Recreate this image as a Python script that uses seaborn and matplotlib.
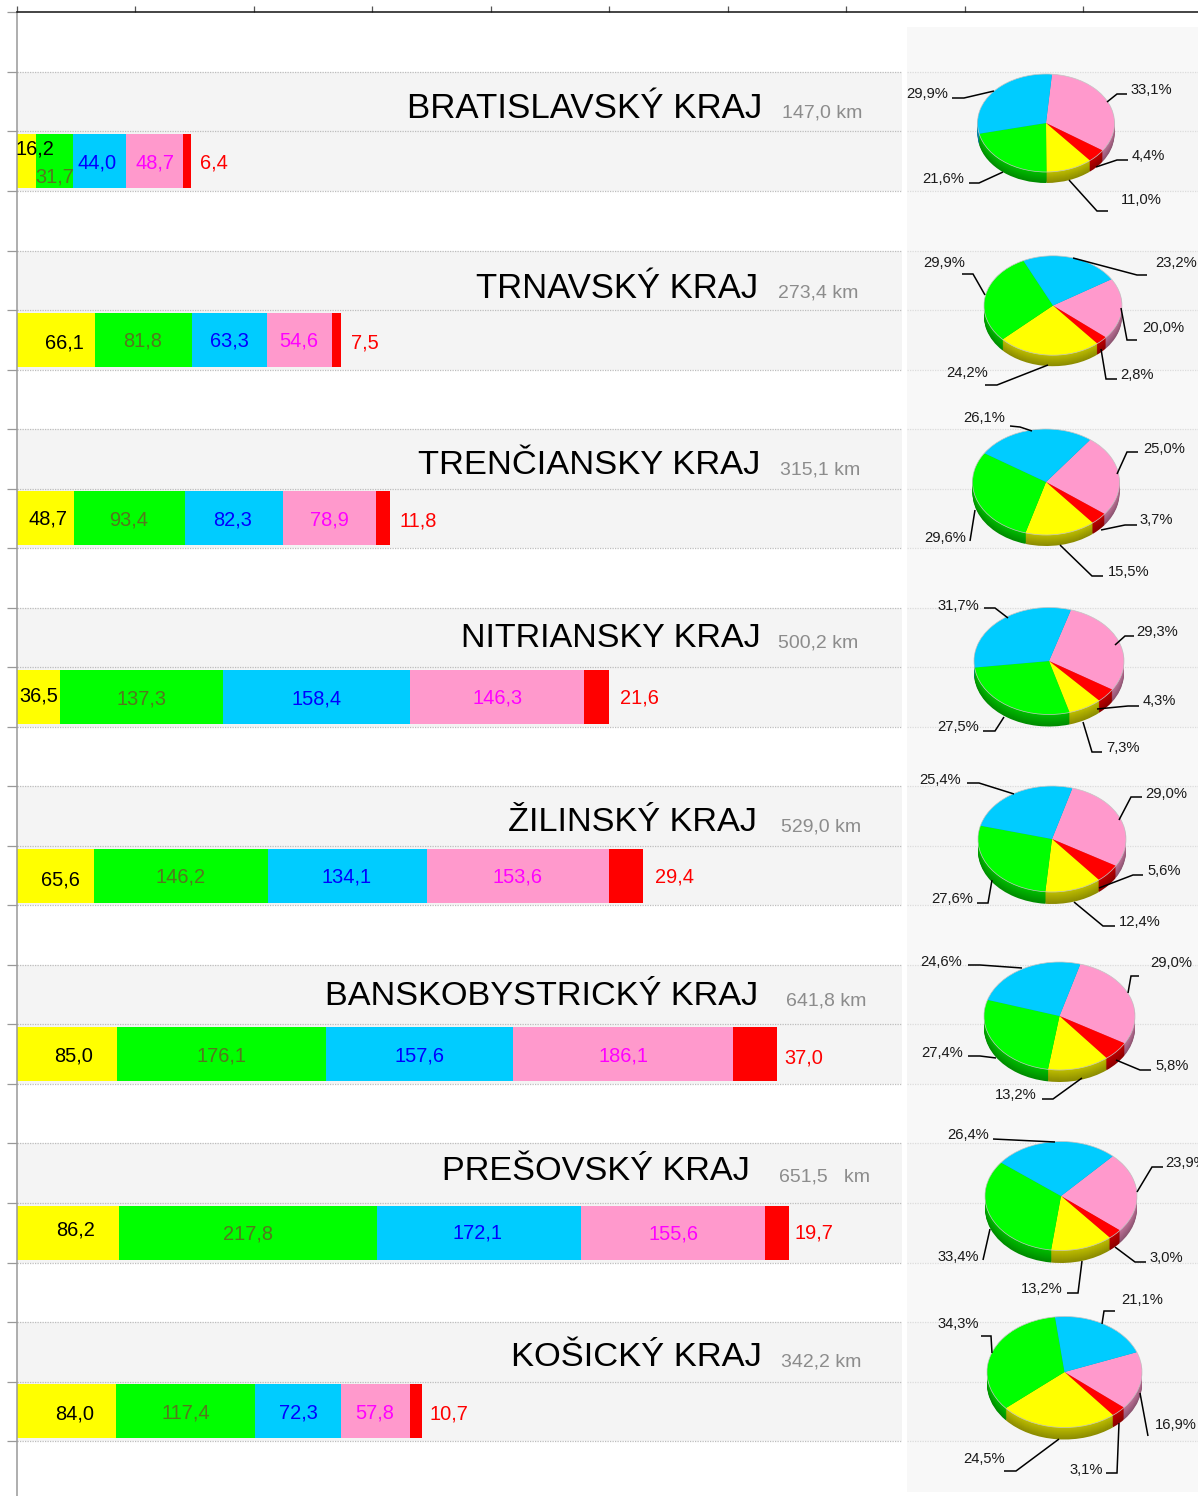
import numpy as np
import pandas as pd
import matplotlib
matplotlib.use("Agg")
import matplotlib.pyplot as plt
from matplotlib.patches import Ellipse
import seaborn as sns

# ---------- data ----------
regions = ["BRATISLAVSKÝ KRAJ", "TRNAVSKÝ KRAJ", "TRENČIANSKY KRAJ", "NITRIANSKY KRAJ",
           "ŽILINSKÝ KRAJ", "BANSKOBYSTRICKÝ KRAJ", "PREŠOVSKÝ KRAJ", "KOŠICKÝ KRAJ"]
lengths = ["147,0 km", "273,4 km", "315,1 km", "500,2 km", "529,0 km", "641,8 km", "651,5   km", "342,2 km"]
yellow_km = [16.2, 66.1, 48.7, 36.5, 65.6, 85.0, 86.2, 84.0]
green_km = [31.7, 81.8, 93.4, 137.3, 146.2, 176.1, 217.8, 117.4]
blue_km = [44.0, 63.3, 82.3, 158.4, 134.1, 157.6, 172.1, 72.3]
pink_km = [48.7, 54.6, 78.9, 146.3, 153.6, 186.1, 155.6, 57.8]
red_km = [6.4, 7.5, 11.8, 21.6, 29.4, 37.0, 19.7, 10.7]
pink_pct = [33.1, 20.0, 25.0, 29.3, 29.0, 29.0, 23.9, 16.9]
red_pct = [4.4, 2.8, 3.7, 4.3, 5.6, 5.8, 3.0, 3.1]
yellow_pct = [11.0, 24.2, 15.5, 7.3, 12.4, 13.2, 13.2, 24.5]
green_pct = [21.6, 29.9, 29.6, 27.5, 27.6, 27.4, 33.4, 34.3]
blue_pct = [29.9, 23.2, 26.1, 31.7, 25.4, 24.6, 26.4, 21.1]

# ---------- layout / style ----------
W, H = 1198, 1496
AX_L, AX_T = 16.7, 12.4
PX_PER_KM, PX_PER_SLOT = 1.185, 59.53
BAR_COL = ["#ffff00", "#00ff00", "#00ccff", "#ff99cc", "#ff0000"]
TXT_COL = ["#000000", "#55771f", "#0000ff", "#ff00ff", "#ff0000"]
title_size = [25.1, 24.9, 24.8, 24.6, 24.7, 24.7, 24.7, 24.8]
title_pos = [(762, 108), (758, 288), (760, 465), (761, 638), (757, 822), (758, 996), (750, 1172), (762, 1357)]
km_pos = [(782, 113), (778, 293), (780, 470), (778, 643), (781, 827), (786, 1001), (779, 1177), (781, 1362)]
val_pos = [
    [(35, 149), (55, 177), (97, 163), (155, 163), (214, 163)],
    [(64, 343), (143, 341), (229, 341), (299, 341), (365, 343)],
    [(48, 519), (129, 520), (233, 520), (329, 520), (418, 521)],
    [(39, 696), (141, 699), (317, 699), (498, 698), (639, 698)],
    [(60, 880), (181, 877), (347, 877), (518, 877), (674, 877)],
    [(74, 1056), (221, 1056), (420, 1056), (623, 1056), (804, 1058)],
    [(76, 1230), (248, 1234), (478, 1233), (673, 1234), (814, 1233)],
    [(75, 1414), (186, 1413), (298, 1413), (375, 1413), (449, 1414)],
]
# cx, cy, rx, ry, depth, start angle
pie_geo = [
    (1046, 123, 68.5, 49, 11, 85), (1053, 305.5, 69, 49.7, 11, 32), (1046, 482, 73.5, 53, 11, 53),
    (1049, 661, 75, 53.5, 12, 73), (1052, 839, 74, 53, 12, 74), (1059.5, 1016, 75.5, 54, 12, 74),
    (1061, 1196, 76, 54.5, 12.5, 47), (1064.5, 1372, 77.5, 55.5, 12, 21),
]
# per pie, in order pink, red, yellow, green, blue: label centre and leader polyline
pie_lab = [
    [((1151, 90), [(1127, 94), (1117, 94), (1107, 102)]), ((1148, 156), [(1128, 160), (1117, 160), (1096, 167)]),
     ((1141, 200), [(1108, 211), (1097, 211), (1069, 180)]), ((943, 179), [(969, 183), (979, 183), (1003, 172)]),
     ((927, 94), [(952, 98), (964, 98), (994, 91)])],
    [((1163, 328), [(1137, 340), (1127, 340), (1121, 308)]), ((1137, 375), [(1117, 379), (1106, 379), (1101, 349)]),
     ((967, 373), [(985, 385), (997, 385), (1048, 365)]), ((944, 263), [(962, 274), (973, 274), (985, 295)]),
     ((1176, 263), [(1147, 275), (1137, 275), (1073, 258)])],
    [((1164, 449), [(1138, 452), (1127, 452), (1117, 474)]), ((1156, 520), [(1137, 525), (1125, 525), (1101, 530)]),
     ((1129, 572), [(1103, 576), (1092, 576), (1060, 545)]), ((945, 538), [(970, 541), (975, 510)]),
     ((984, 418), [(1010, 426), (1020, 427), (1032, 431)])],
    [((1157, 632), [(1134, 636), (1125, 636), (1115, 645)]), ((1159, 701), [(1139, 706), (1128, 706), (1097, 709)]),
     ((1123, 748), [(1102, 752), (1092, 752), (1083, 722)]), ((958, 727), [(983, 731), (995, 731), (1004, 717)]),
     ((958, 606), [(984, 608), (995, 608), (1008, 618)])],
    [((1166, 794), [(1142, 797), (1131, 797), (1119, 820)]), ((1164, 871), [(1143, 875), (1133, 875), (1099, 888)]),
     ((1140, 922), [(1115, 926), (1103, 926), (1074, 902)]), ((952, 899), [(977, 903), (988, 903), (992, 880)]),
     ((940, 780), [(967, 783), (979, 783), (1014, 794)])],
    [((1171, 963), [(1139, 976), (1131, 976), (1128, 993)]), ((1172, 1066), [(1151, 1070), (1140, 1070), (1116, 1060)]),
     ((1016, 1095), [(1042, 1099), (1053, 1099), (1082, 1078)]), ((942, 1053), [(968, 1056), (980, 1056), (996, 1058)]),
     ((941, 962), [(968, 965), (980, 965), (1022, 968)])],
    [((1186, 1163), [(1163, 1167), (1152, 1167), (1137, 1192)]), ((1166, 1258), [(1146, 1262), (1135, 1262), (1115, 1247)]),
     ((1042, 1289), [(1067, 1293), (1078, 1293), (1082, 1261)]), ((958, 1257), [(983, 1260), (990, 1229)]),
     ((968, 1135), [(993, 1139), (1055, 1142)])],
    [((1176, 1425), [(1148, 1436), (1140, 1393)]), ((1086, 1470), [(1106, 1473), (1117, 1473), (1119, 1423)]),
     ((984, 1459), [(1004, 1471), (1016, 1471), (1059, 1439)]), ((958, 1324), [(981, 1336), (991, 1336), (992, 1353)]),
     ((1142, 1300), [(1115, 1311), (1104, 1311), (1102, 1324)])],
]

sns.set_theme(style="white")
plt.rcParams["font.family"] = ["Liberation Sans", "DejaVu Sans"]


def comma(v):
    return f"{v:.1f}".replace(".", ",")


fig = plt.figure(figsize=(W / 100, H / 100), dpi=100, facecolor="white")
ax = fig.add_axes([AX_L / W, 0, 1 - AX_L / W, 1 - AX_T / H], zorder=0)
ax.set_facecolor("white")
x_max = (W - AX_L) / PX_PER_KM
y_max = (H - AX_T) / PX_PER_SLOT
x_split_a, x_split_b = (902 - AX_L) / PX_PER_KM, (907 - AX_L) / PX_PER_KM

# background panels
ax.fill_between([x_split_b, x_max], (27 - AX_T) / PX_PER_SLOT, (1492 - AX_T) / PX_PER_SLOT,
                color="#f8f8f8", lw=0, zorder=0)
for i in range(len(regions)):
    y0 = 1 + 3 * i
    ax.fill_between([0, x_split_a], y0, y0 + 2, color="#f4f4f4", lw=0, zorder=0.1)
    ax.fill_between([x_split_b, x_max], y0, y0 + 2, color="#f5f5f5", lw=0, zorder=0.1)
    for y in (y0, y0 + 1, y0 + 2):
        ax.plot([0, x_split_a], [y, y], color="#bdbdbd", lw=0.9, ls=(0, (1, 1)), zorder=0.2)
        ax.plot([x_split_b, x_max], [y, y], color="#dcdcdc", lw=0.9, ls=(0, (1, 1)), zorder=0.2)

# stacked bars: cumulative totals, longest first
df = pd.DataFrame({"y": [2.5 + 3 * i for i in range(len(regions))],
                   "yellow": yellow_km, "green": green_km, "blue": blue_km,
                   "pink": pink_km, "red": red_km})
names = ["yellow", "green", "blue", "pink", "red"]
cum = df[names].cumsum(axis=1)
for n, c in list(zip(names, BAR_COL))[::-1]:
    sns.barplot(x=cum[n], y=df["y"], orient="y", native_scale=True, color=c, saturation=1,
                width=0.907 / 3, errorbar=None, ax=ax, linewidth=0, zorder=1)

ax.set_xlim(0, x_max)
ax.set_ylim(y_max, 0)
ax.set_xlabel("")
ax.set_ylabel("")
ax.xaxis.tick_top()
ax.set_xticks(np.arange(0, 1000, 100))
ax.set_yticks(np.arange(0, 25))
ax.set_xticklabels([])
ax.set_yticklabels([])
ax.tick_params(axis="x", length=4.5, width=0.9, color="#555555", top=True, bottom=False)
ax.tick_params(axis="y", length=7.5, width=0.9, color="#999999", left=True)
for s in ("right", "bottom"):
    ax.spines[s].set_visible(False)
ax.spines["top"].set_color("#111111")
ax.spines["top"].set_linewidth(1.1)
ax.spines["left"].set_color("#999999")
ax.spines["left"].set_linewidth(1.1)

# pies with a stacked-layer side
for i, (cx, cy, rx, ry, depth, start) in enumerate(pie_geo):
    shares = [pink_pct[i], red_pct[i], yellow_pct[i], green_pct[i], blue_pct[i]]
    cols = ["#ff99cc", "#ff0000", "#ffff00", "#00ff00", "#00ccff"]
    m = 1.02
    pa = fig.add_axes([(cx - rx * m) / W, 1 - (cy + ry * m + depth) / H,
                       2 * rx * m / W, (2 * ry * m + depth) / H], zorder=1)
    pa.patch.set_alpha(0)
    for k in np.arange(depth, 0, -1.0):
        f = 0.55 + 0.2 * (1 - k / depth)
        side = [tuple(np.array(matplotlib.colors.to_rgb(c)) * f) for c in cols]
        pa.pie(shares, colors=side, startangle=start, counterclock=False,
               center=(0, -k / ry), radius=1, wedgeprops={"linewidth": 0})
    pa.pie(shares, colors=cols, startangle=start, counterclock=False,
           center=(0, 0), radius=1, wedgeprops={"linewidth": 0})
    pa.add_patch(Ellipse((0, 0), 2, 2, fc="none", ec="#c4c4c4", lw=0.5))
    pa.set_aspect("auto")
    pa.set_xlim(-m, m)
    pa.set_ylim(-m - depth / ry, m)
    pa.axis("off")

# text and leaders in a pixel-mapped overlay
ov = fig.add_axes([0, 0, 1, 1], zorder=2)
ov.set_xlim(0, W)
ov.set_ylim(H, 0)
ov.axis("off")
series = list(zip(yellow_km, green_km, blue_km, pink_km, red_km))
pcts = list(zip(pink_pct, red_pct, yellow_pct, green_pct, blue_pct))
for i, name in enumerate(regions):
    tx, ty = title_pos[i]
    ov.text(tx, ty, name, ha="right", va="center", fontsize=title_size[i], color="#000000")
    kx, ky = km_pos[i]
    ov.text(kx, ky, lengths[i], ha="left", va="center", fontsize=14.0, color="#8c8c8c")
    for v, (x, y), c in zip(series[i], val_pos[i], TXT_COL):
        ov.text(x, y, comma(v), ha="center", va="center", fontsize=14.4, color=c)
    for p, ((x, y), line) in zip(pcts[i], pie_lab[i]):
        ov.text(x, y, comma(p) + "%", ha="center", va="center", fontsize=10.6, color="#1a1a1a")
        xs, ys = zip(*line)
        ov.plot(xs, ys, color="#000000", lw=1.1, solid_capstyle="butt", solid_joinstyle="miter")

fig.savefig("out.png", dpi=100, facecolor="white")
